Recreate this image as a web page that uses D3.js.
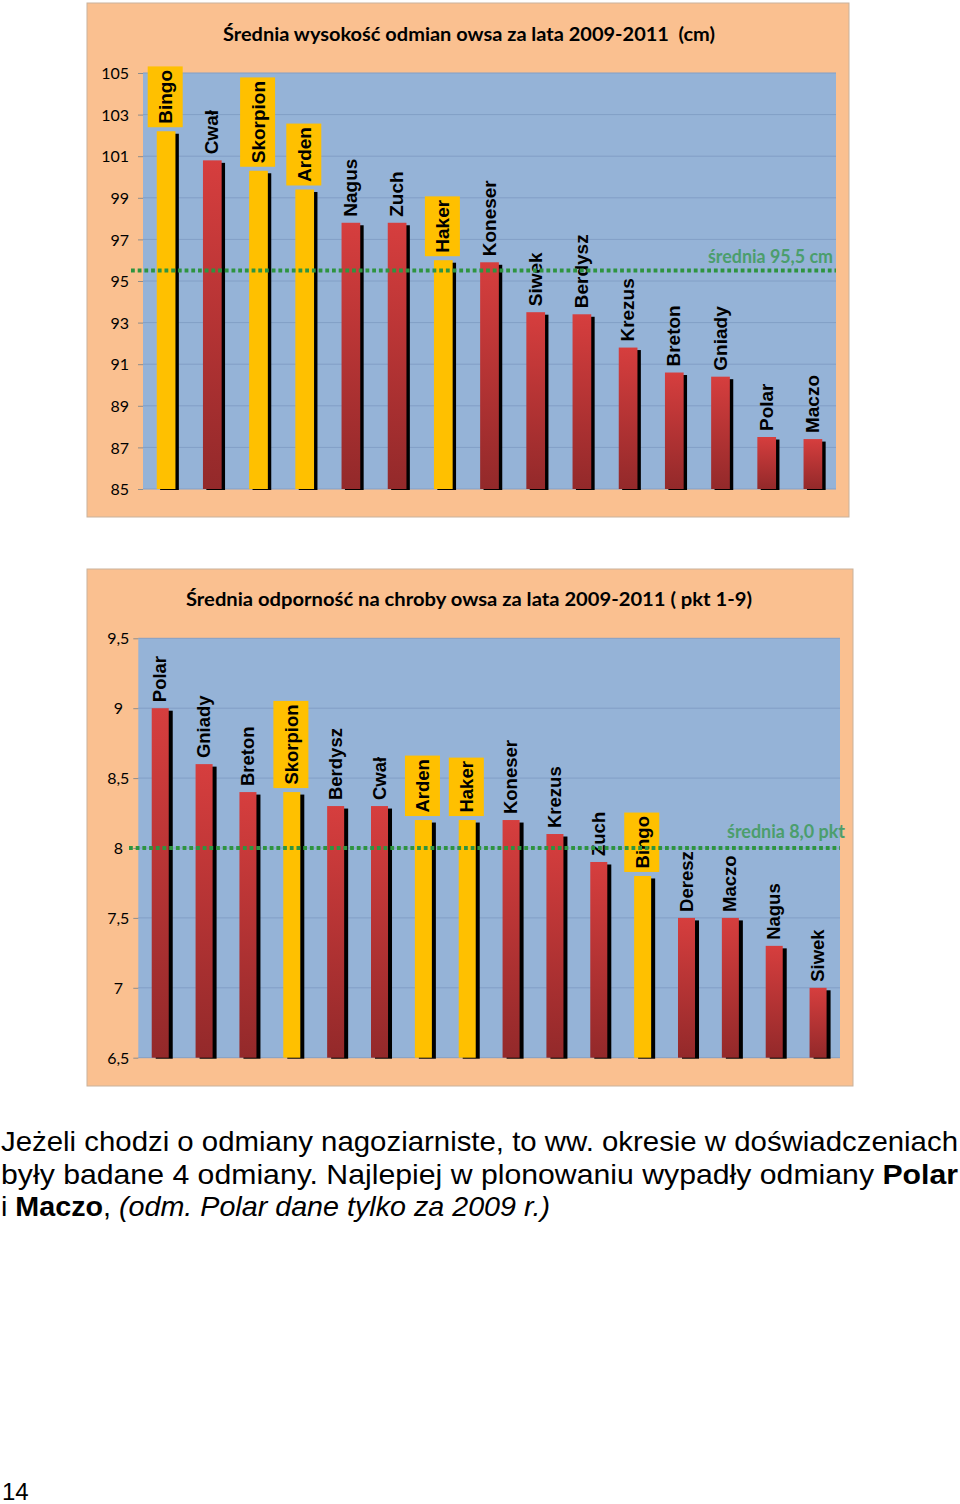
<!DOCTYPE html>
<html><head><meta charset="utf-8">
<script src="https://cdn.jsdelivr.net/npm/d3@7"></script>
<style>body{margin:0;background:#fff} svg{display:block}</style>
</head><body>
<script>
// ---------- DATA ----------
const heightTitle = "Średnia wysokość odmian owsa za lata 2009-2011  (cm)";
const heightCategories = ["Bingo","Cwał","Skorpion","Arden","Nagus","Zuch","Haker","Koneser","Siwek","Berdysz","Krezus","Breton","Gniady","Polar","Maczo"];
const heightValues = [102.2,100.8,100.3,99.4,97.8,97.8,96.0,95.9,93.5,93.4,91.8,90.6,90.4,87.5,87.4];
const heightHighlighted = ["Bingo","Skorpion","Arden","Haker"];
const heightTicks = [85,87,89,91,93,95,97,99,101,103,105];
const heightMean = 95.5;
const heightMeanLabel = "średnia 95,5 cm";

const resistTitle = "Średnia odporność na chroby owsa za lata 2009-2011 ( pkt 1-9)";
const resistCategories = ["Polar","Gniady","Breton","Skorpion","Berdysz","Cwał","Arden","Haker","Koneser","Krezus","Zuch","Bingo","Deresz","Maczo","Nagus","Siwek"];
const resistValues = [9.0,8.6,8.4,8.4,8.3,8.3,8.2,8.2,8.2,8.1,7.9,7.8,7.5,7.5,7.3,7.0];
const resistHighlighted = ["Skorpion","Arden","Haker","Bingo"];
const resistTicks = [6.5,7,7.5,8,8.5,9,9.5];
const resistMean = 8.0;
const resistMeanLabel = "średnia 8,0 pkt";

const paragraphLines = [
  [{t:"Jeżeli chodzi o odmiany nagoziarniste, to ww. okresie w doświadczeniach"}],
  [{t:"były badane 4 odmiany. Najlepiej w plonowaniu wypadły odmiany "},{t:"Polar",b:true}],
  [{t:"i "},{t:"Maczo",b:true},{t:", "},{t:"(odm. Polar dane tylko za 2009 r.)",i:true}]
];
const pageNumber = "14";

// ---------- DRAW ----------
const svg = d3.select("body").append("svg").attr("width",960).attr("height",1504);
const defs = svg.append("defs");
const grad = defs.append("linearGradient").attr("id","redGrad")
  .attr("x1",0).attr("y1",0).attr("x2",0).attr("y2",1);
grad.append("stop").attr("offset","0%").attr("stop-color","#d63e3e");
grad.append("stop").attr("offset","100%").attr("stop-color","#93292a");

const calibri = "Lato, 'Open Sans', sans-serif";
const arial = "'Liberation Sans', Arial, sans-serif";

function squeeze(sel, target) {
  sel.attr("xml:space","preserve").attr("textLength",target).attr("lengthAdjust","spacingAndGlyphs");
}

function drawChart(c) {
  const g = svg.append("g");
  g.append("rect").attr("x",c.box[0]).attr("y",c.box[1]).attr("width",c.box[2]).attr("height",c.box[3])
    .attr("fill","#fac090").attr("stroke","#c9b29c").attr("stroke-width",1);
  const x = d3.scaleBand().domain(c.cats).range([c.px0,c.px1]).paddingInner(c.pad).paddingOuter(c.pad/2);
  const y = d3.scaleLinear().domain(c.domain).range([c.pyB,c.pyT]);
  g.append("rect").attr("x",c.px0).attr("y",c.pyT).attr("width",c.px1-c.px0).attr("height",c.pyB-c.pyT).attr("fill","#95b3d7");
  // grid
  g.selectAll(".grid").data(c.ticks).join("line")
    .attr("x1",c.px0).attr("x2",c.px1).attr("y1",d=>y(d)).attr("y2",d=>y(d))
    .attr("stroke","#829fc6").attr("stroke-width",1);
  // axis
  const axis = d3.axisLeft(y).tickValues(c.ticks).tickFormat(c.fmt).tickSize(5).tickPadding(c.tickPad);
  const ag = g.append("g").attr("transform",`translate(${c.px0},0)`).call(axis);
  ag.select(".domain").remove();
  ag.selectAll(".tick line").attr("stroke","#8c8c8c");
  ag.selectAll(".tick text").attr("font-family",calibri).attr("font-size",c.tickFs).attr("fill","#000")
    .attr("text-anchor",c.tickAnchor).attr("x",c.tickX).attr("dy","0.35em");
  // title
  const t = g.append("text").attr("x",c.titleX).attr("y",c.titleY).attr("text-anchor","middle")
    .attr("font-family",calibri).attr("font-weight","bold").attr("font-size",19.5).attr("fill","#000").text(c.title);
  squeeze(t, c.titleW);
  // shadows
  const bw = x.bandwidth();
  g.selectAll(".shadow").data(c.vals).join("rect")
    .attr("x",(d,i)=>x(c.cats[i])+c.sdx).attr("y",d=>y(d)+c.sdy)
    .attr("width",bw).attr("height",d=>c.pyB+1-(y(d)+c.sdy)).attr("fill","#000");
  g.selectAll(".bar").data(c.vals).join("rect")
    .attr("x",(d,i)=>x(c.cats[i])).attr("y",d=>y(d))
    .attr("width",bw).attr("height",d=>c.pyB-y(d))
    .attr("fill",(d,i)=>c.hl.includes(c.cats[i])?"#ffc000":"url(#redGrad)");
  // labels
  c.vals.forEach((v,i)=>{
    const name = c.cats[i];
    const cx = x(name)+bw/2;
    const yel = c.hl.includes(name);
    const gap = yel ? 7.5 : 6;
    const lg = g.append("g").attr("transform",`translate(${cx+6},${y(v)-gap}) rotate(-90)`);
    const rect = lg.append("rect");
    const tx = lg.append("text").attr("x",0).attr("y",0).attr("font-family",arial).attr("font-weight","bold")
      .attr("font-size",c.labelFs).attr("fill","#000").text(name);
    if (yel) {
      const L = tx.node().getComputedTextLength();
      rect.attr("x",-3.5).attr("y",-24.4).attr("width",L+7).attr("height",35).attr("fill","#ffc000");
    } else rect.remove();
  });
  // mean
  g.append("line").attr("x1",c.meanX0).attr("x2",c.px1).attr("y1",y(c.mean)).attr("y2",y(c.mean))
    .attr("stroke","#2e9440").attr("stroke-width",4).attr("stroke-dasharray","3.8,2.9");
  const ml = g.append("text").attr("x",c.meanLabelX).attr("y",c.meanLabelY).attr("text-anchor","end")
    .attr("font-family",calibri).attr("font-weight","bold").attr("font-size",18).attr("fill","#4b9e6c").text(c.meanLabel);
  squeeze(ml, c.meanLabelW);
}

drawChart({
  box:[87,3,762,514], px0:143, px1:836, pyT:73, pyB:489, domain:[85,105],
  cats:heightCategories, vals:heightValues, hl:heightHighlighted, ticks:heightTicks,
  fmt:d=>String(d), tickFs:16, tickAnchor:"end", tickX:-14, tickPad:14,
  pad:0.595, sdx:3.4, sdy:2.5, labelFs:19,
  title:heightTitle, titleX:469, titleY:41, titleW:492,
  mean:heightMean, meanX0:131, meanLabel:heightMeanLabel, meanLabelX:833, meanLabelY:263, meanLabelW:125
});
drawChart({
  box:[87,569,766,517], px0:138.3, px1:840, pyT:638.3, pyB:1057.7, domain:[6.5,9.5],
  cats:resistCategories, vals:resistValues, hl:resistHighlighted, ticks:resistTicks,
  fmt:d=>String(d).replace(".",","), tickFs:16, tickAnchor:"middle", tickX:-20, tickPad:14,
  pad:0.612, sdx:4, sdy:2.5, labelFs:18.5,
  title:resistTitle, titleX:469, titleY:606, titleW:566,
  mean:resistMean, meanX0:129, meanLabel:resistMeanLabel, meanLabelX:845, meanLabelY:838, meanLabelW:118
});

// paragraph
const lineWidths = [957, 957, 549];
const baselines = [1151, 1184, 1216];
paragraphLines.forEach((parts,i)=>{
  const t = svg.append("text").attr("x",1).attr("y",baselines[i]).attr("font-family",arial)
    .attr("font-size",28).attr("fill","#000").attr("xml:space","preserve");
  parts.forEach(p=>{
    t.append("tspan").attr("font-weight",p.b?"bold":"normal").attr("font-style",p.i?"italic":"normal").text(p.t);
  });
  t.attr("textLength",lineWidths[i]).attr("lengthAdjust","spacingAndGlyphs");
});
svg.append("text").attr("x",2).attr("y",1500).attr("font-family",arial).attr("font-size",24).attr("fill","#000").text(pageNumber);
</script>
</body></html>
